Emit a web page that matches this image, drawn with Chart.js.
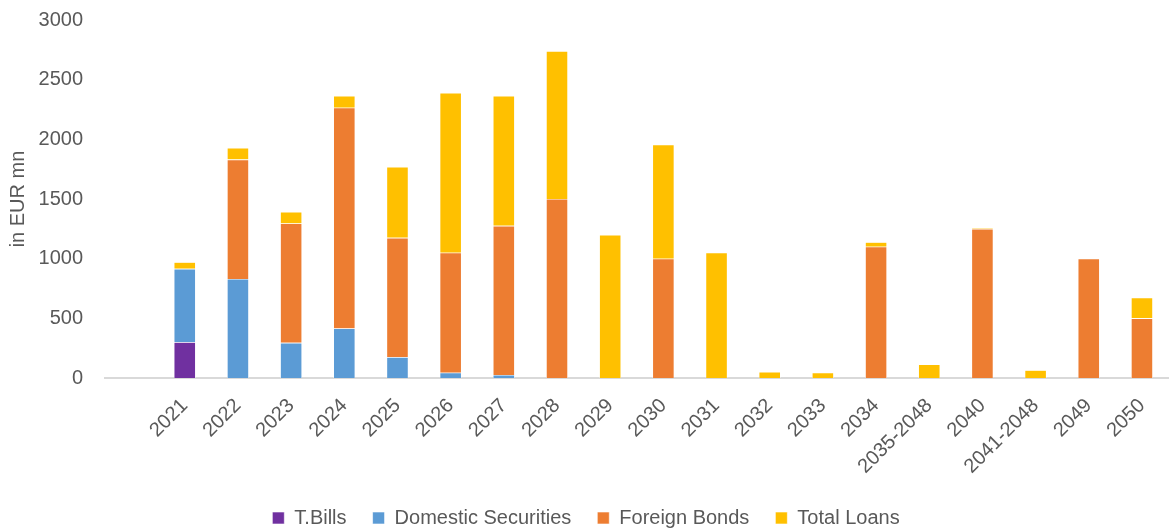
<!DOCTYPE html>
<html>
<head>
<meta charset="utf-8">
<script src="https://cdn.jsdelivr.net/npm/chart.js@4/dist/chart.umd.min.js"></script>
<style>
  html, body { margin: 0; padding: 0; background: #ffffff; }
  #wrap { width: 1175px; height: 528px; }
</style>
</head>
<body>
<div id="wrap"><canvas id="debtChart" width="1175" height="528"></canvas></div>
<script>
// categories (first slot is left empty, as in the original)
const years = ['', '2021', '2022', '2023', '2024', '2025', '2026', '2027', '2028', '2029', '2030',
    '2031', '2032', '2033', '2034', '2035-2048', '2040', '2041-2048', '2049', '2050'];

// series values, in EUR mn
const tBills = [null, 300, 0, 0, 0, 0, 0, 0, 0, 0, 0, 0, 0, 0, 0, 0, 0, 0, 0, 0];
const domesticSecurities = [null, 615, 830, 295, 415, 175, 45, 25, 0, 0, 0, 0, 0, 0, 0, 0, 0, 0, 0, 0];
const foreignBonds = [null, 0, 1000, 1000, 1850, 1000, 1005, 1250, 1500, 0, 1000, 0, 0, 0, 1100, 0, 1250, 0, 1000, 500];
const totalLoans = [null, 55, 98, 97, 98, 595, 1340, 1088, 1240, 1200, 955, 1050, 52, 45, 38, 115, 8, 65, 0, 173];

const yTicks = [0, 500, 1000, 1500, 2000, 2500, 3000];

const textColor = '#595959';
const fontFamily = '"Liberation Sans", Arial, sans-serif';

const ctx = document.getElementById('debtChart').getContext('2d');

function series(label, data, color) {
    return {
        label: label,
        data: data,
        backgroundColor: color,
        borderColor: '#ffffff',
        borderWidth: 0.6,
        barPercentage: 0.41,
        categoryPercentage: 1.0
    };
}

const debtChart = new Chart(ctx, {
    type: 'bar',
    data: {
        labels: years,
        datasets: [
            series('T.Bills', tBills, '#7030A0'),
            series('Domestic Securities', domesticSecurities, '#5B9BD5'),
            series('Foreign Bonds', foreignBonds, '#ED7D31'),
            series('Total Loans', totalLoans, '#FFC000')
        ]
    },
    options: {
        responsive: false,
        animation: false,
        layout: {
            padding: { top: 20, right: 3, left: 0, bottom: -10 }
        },
        scales: {
            x: {
                stacked: true,
                grid: { display: false, drawTicks: false },
                border: { display: true, color: '#d9d9d9', width: 2 },
                ticks: {
                    color: textColor,
                    font: { family: fontFamily, size: 20 },
                    minRotation: 45,
                    maxRotation: 45,
                    autoSkip: false,
                    padding: 16
                },
                afterFit: (scale) => { scale.height = 104; }
            },
            y: {
                stacked: true,
                min: 0,
                max: 3000,
                afterBuildTicks: (scale) => {
                    scale.ticks = yTicks.map(v => ({ value: v }));
                },
                // tick marks are hidden, their length just sets the label gap
                grid: { display: false, drawTicks: true, tickLength: 22 },
                border: { display: false },
                ticks: {
                    color: textColor,
                    font: { family: fontFamily, size: 20 },
                    padding: 0,
                    callback: (value) => String(value)
                },
                title: {
                    display: true,
                    text: 'in EUR mn',
                    color: textColor,
                    font: { family: fontFamily, size: 20 },
                    padding: { top: 6, bottom: 0 }
                },
                afterFit: (scale) => { scale.width = 105; }
            }
        },
        plugins: {
            legend: {
                position: 'bottom',
                labels: {
                    color: textColor,
                    font: { family: fontFamily, size: 20 },
                    boxWidth: 12,
                    boxHeight: 12,
                    padding: 26
                }
            },
            tooltip: { enabled: false }
        }
    }
});
</script>
</body>
</html>
